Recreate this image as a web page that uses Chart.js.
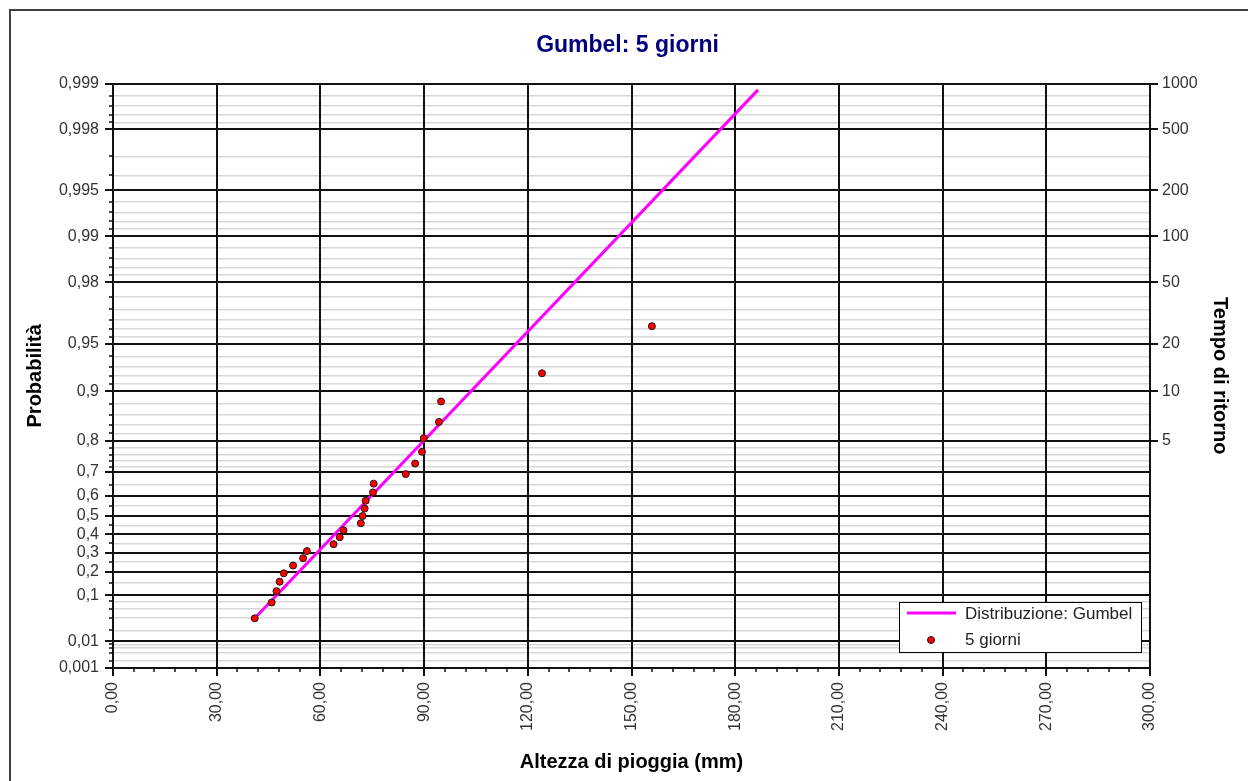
<!DOCTYPE html>
<html lang="it">
<head>
<meta charset="utf-8">
<title>Gumbel: 5 giorni</title>
<script src="https://cdn.jsdelivr.net/npm/chart.js@4.4.1/dist/chart.umd.min.js"></script>
<style>
  html, body { margin: 0; padding: 0; background: #fff; overflow: hidden; }
  #wrap { position: relative; width: 1248px; height: 781px; overflow: hidden; }
  #frame { position: absolute; left: 9px; top: 9px; width: 1300px; height: 900px; border: 2px solid #404040; box-sizing: border-box; }
  canvas { position: absolute; left: 0; top: 0; }
</style>
</head>
<body>
<div id="wrap">
  <div id="frame"></div>
  <canvas id="gumbelChart" width="1248" height="781"></canvas>
</div>
<script>
// valori: altezza di pioggia (mm) e probabilità di non superamento
const obsX = [41.0, 45.9, 47.3, 48.2, 49.4, 52.1, 55.0, 56.1, 63.8, 65.6, 66.7, 71.7, 72.2,
  72.8, 73.1, 75.2, 75.4, 84.7, 87.4, 89.4, 89.9, 94.3, 94.9, 124.1, 155.9];
const obsP = [0.0385, 0.0769, 0.1154, 0.1538, 0.1923, 0.2308, 0.2692, 0.3077, 0.3462, 0.3846,
  0.4231, 0.4615, 0.5, 0.5385, 0.5769, 0.6154, 0.6538, 0.6923, 0.7308, 0.7692, 0.8077,
  0.8462, 0.8846, 0.9231, 0.9615];

// retta della distribuzione di Gumbel (estremi)
const fitX = [41.0, 186.6];
const fitP = [0.0386, 0.9989];

// etichette degli assi
const probMajor = [0.001, 0.01, 0.1, 0.2, 0.3, 0.4, 0.5, 0.6, 0.7, 0.8, 0.9, 0.95, 0.98, 0.99, 0.995, 0.998, 0.999];
const probMinor = [0.002, 0.004, 0.006, 0.008, 0.02, 0.04, 0.06, 0.08, 0.15, 0.25, 0.35, 0.45, 0.55, 0.65,
  0.72, 0.74, 0.76, 0.78, 0.82, 0.84, 0.86, 0.88, 0.91, 0.92, 0.93, 0.94,
  0.955, 0.96, 0.965, 0.97, 0.975, 0.982, 0.984, 0.986, 0.988, 0.991, 0.992, 0.993, 0.994,
  0.996, 0.997, 0.9982, 0.9984, 0.9986, 0.9988];
const returnPeriods = [5, 10, 20, 50, 100, 200, 500, 1000];
const xMin = 0, xMax = 300, xStep = 30, xMinorStep = 6;

// variabile ridotta di Gumbel
const gum = (p) => -Math.log(-Math.log(p));

const FONT = "'Liberation Sans', Arial, sans-serif";
Chart.defaults.font.family = FONT;
Chart.defaults.color = "#333";

const minorTicks = {
  id: "minorTicks",
  afterDraw(chart) {
    const { ctx, chartArea, scales } = chart;
    ctx.save();
    ctx.strokeStyle = "#111";
    ctx.lineWidth = 1.5;
    ctx.beginPath();
    probMinor.forEach((p) => {
      const y = Math.round(scales.y.getPixelForValue(gum(p)));
      ctx.moveTo(chartArea.left - 4, y);
      ctx.lineTo(chartArea.left, y);
    });
    for (let v = xMin; v <= xMax; v += xMinorStep) {
      if (v % xStep === 0) continue;
      const x = Math.round(scales.x.getPixelForValue(v));
      ctx.moveTo(x, chartArea.bottom);
      ctx.lineTo(x, chartArea.bottom + 4);
    }
    ctx.stroke();
    ctx.restore();
  },
};

const boxLegend = {
  id: "boxLegend",
  afterDraw(chart) {
    const { ctx, chartArea } = chart;
    const w = 242, h = 50;
    const x = chartArea.right - 9 - w;
    const y = chartArea.bottom - 16 - h;
    ctx.save();
    ctx.fillStyle = "#fff";
    ctx.fillRect(x, y, w, h);
    ctx.strokeStyle = "#000";
    ctx.lineWidth = 1;
    ctx.strokeRect(x + 0.5, y + 0.5, w, h);

    const fit = chart.data.datasets[1];
    const obs = chart.data.datasets[0];
    ctx.strokeStyle = fit.borderColor;
    ctx.lineWidth = 3;
    ctx.beginPath();
    ctx.moveTo(x + 8, y + 11);
    ctx.lineTo(x + 57, y + 11);
    ctx.stroke();

    ctx.fillStyle = obs.pointBackgroundColor;
    ctx.strokeStyle = obs.pointBorderColor;
    ctx.lineWidth = 1;
    ctx.beginPath();
    ctx.arc(x + 32, y + 38, 3.5, 0, Math.PI * 2);
    ctx.fill();
    ctx.stroke();

    ctx.fillStyle = "#222";
    ctx.font = "17px " + FONT;
    ctx.textBaseline = "middle";
    ctx.fillText(fit.label, x + 66, y + 12);
    ctx.fillText(obs.label, x + 66, y + 38);
    ctx.restore();
  },
};

const ctx = document.getElementById("gumbelChart").getContext("2d");
new Chart(ctx, {
  type: "scatter",
  data: {
    datasets: [
      {
        label: "5 giorni",
        data: obsX.map((x, i) => ({ x: x, y: gum(obsP[i]) })),
        pointRadius: 3.5,
        pointBackgroundColor: "#ff0000",
        pointBorderColor: "#1a1a1a",
        pointBorderWidth: 1,
        order: 0,
      },
      {
        label: "Distribuzione: Gumbel",
        data: fitX.map((x, i) => ({ x: x, y: gum(fitP[i]) })),
        showLine: true,
        borderColor: "#ff00ff",
        borderWidth: 3,
        pointRadius: 0,
        order: 1,
      },
    ],
  },
  options: {
    responsive: false,
    animation: false,
    layout: { padding: { left: 19, right: 12, top: 0, bottom: 3 } },
    plugins: {
      legend: { display: false },
      tooltip: { enabled: false },
      title: {
        display: true,
        text: "Gumbel: 5 giorni",
        color: "#000080",
        font: { size: 23, weight: "bold" },
        padding: { top: 32, bottom: 24 },
      },
    },
    scales: {
      x: {
        type: "linear",
        min: xMin,
        max: xMax,
        afterFit: (s) => { s.height = 110; },
        ticks: {
          stepSize: xStep,
          minRotation: 90,
          maxRotation: 90,
          padding: 6,
          font: { size: 16 },
          color: "#333",
          callback: (v) => v.toFixed(2).replace(".", ","),
        },
        grid: { color: "#111", lineWidth: 2, tickLength: 8, tickColor: "#111", z: -1 },
        border: { color: "#111", width: 2 },
        title: {
          display: true,
          text: "Altezza di pioggia (mm)",
          color: "#000",
          font: { size: 20, weight: "bold" },
          padding: 4,
        },
      },
      y: {
        type: "linear",
        position: "left",
        min: gum(probMajor[0]),
        max: gum(probMajor[probMajor.length - 1]),
        afterFit: (s) => { s.width = 94; },
        afterBuildTicks: (s) => {
          const major = probMajor.map((p) => ({ value: gum(p), major: true, txt: String(p).replace(".", ",") }));
          const minor = probMinor.map((p) => ({ value: gum(p), major: false, txt: "" }));
          s.ticks = major.concat(minor).sort((a, b) => a.value - b.value);
        },
        ticks: {
          autoSkip: false,
          padding: 6,
          font: { size: 16 },
          color: "#333",
          callback: (v, i, ticks) => ticks[i].txt,
        },
        grid: {
          z: -2,
          tickLength: 8,
          color: (c) => (c.tick && c.tick.major ? "#111" : "#d8d8d8"),
          lineWidth: (c) => (c.tick && c.tick.major ? 2 : 1.5),
          tickColor: (c) => (c.tick && c.tick.major ? "#111" : "rgba(0,0,0,0)"),
        },
        border: { color: "#111", width: 2 },
        title: {
          display: true,
          text: "Probabilità",
          color: "#000",
          font: { size: 20, weight: "bold" },
          padding: 4,
        },
      },
      y2: {
        type: "linear",
        position: "right",
        min: gum(probMajor[0]),
        max: gum(probMajor[probMajor.length - 1]),
        afterFit: (s) => { s.width = 86; },
        afterBuildTicks: (s) => {
          s.ticks = returnPeriods.map((t) => ({ value: gum(1 - 1 / t), txt: String(t) }));
        },
        ticks: {
          autoSkip: false,
          padding: 4,
          font: { size: 16 },
          color: "#333",
          callback: (v, i, ticks) => ticks[i].txt,
        },
        grid: { drawOnChartArea: false, tickLength: 8, tickColor: "#111", lineWidth: 2 },
        border: { color: "#111", width: 2 },
        title: {
          display: true,
          text: "Tempo di ritorno",
          color: "#000",
          font: { size: 20, weight: "bold" },
          padding: 4,
        },
      },
    },
  },
  plugins: [minorTicks, boxLegend],
});
</script>
</body>
</html>
